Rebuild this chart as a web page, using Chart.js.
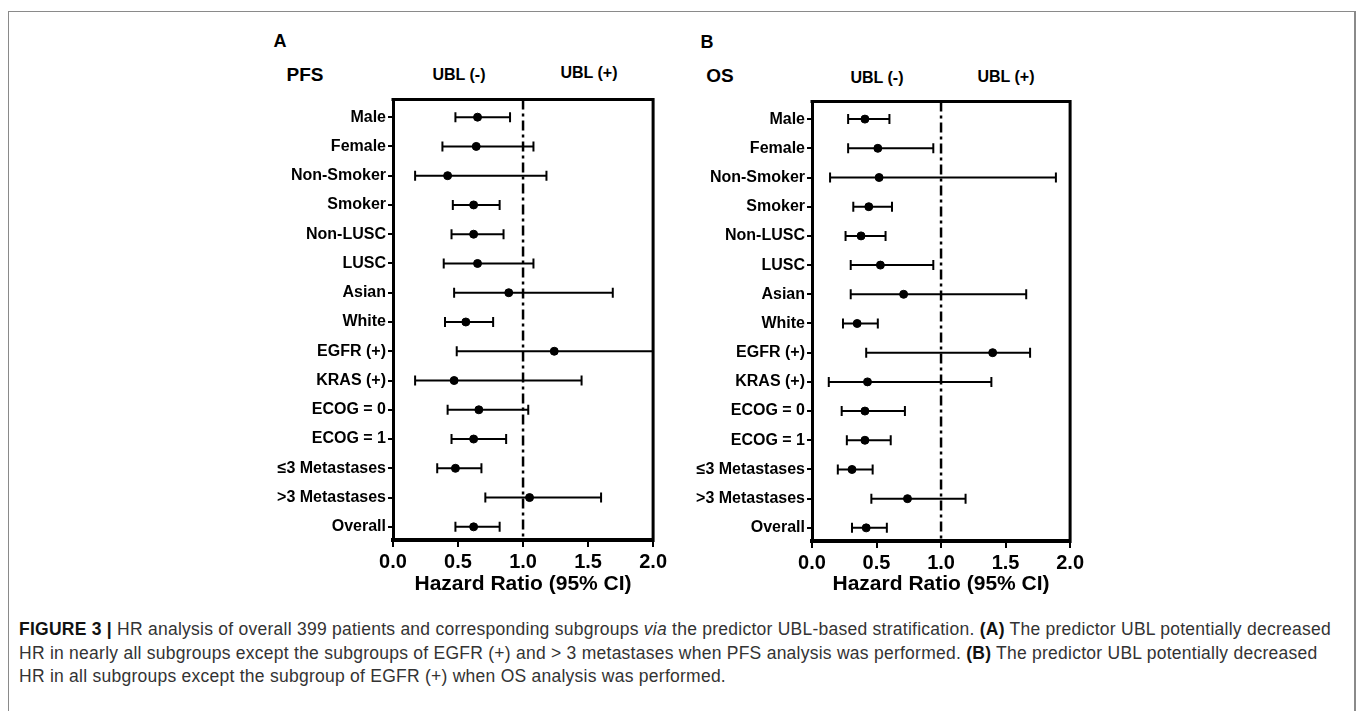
<!DOCTYPE html>
<html>
<head>
<meta charset="utf-8">
<script src="https://cdn.jsdelivr.net/npm/chart.js@4.4.0/dist/chart.umd.min.js"></script>
<style>
  body { margin:0; background:#fff; width:1357px; height:711px; overflow:hidden; position:relative; font-family:'Liberation Sans', Arial, sans-serif; }
  .frame { position:absolute; left:8px; top:11px; width:1345px; height:730px; border:1px solid #8a8a8a; border-right:2px solid #8a8a8a; }
  .lbl { position:absolute; font-weight:bold; color:#000; white-space:nowrap; transform:translate(-50%,-50%); }
  .cv { position:absolute; }
  .caption { position:absolute; left:19px; top:618px; font-size:17.5px; letter-spacing:0.25px; line-height:23.5px; color:#333; white-space:nowrap; }
  .caption b { color:#111; }
</style>
</head>
<body>
<div class="frame"></div>

<div class="lbl" style="left:280px;top:41px;font-size:18px">A</div>
<div class="lbl" style="left:305px;top:75px;font-size:19px">PFS</div>
<div class="lbl" style="left:459px;top:75px;font-size:16px">UBL (-)</div>
<div class="lbl" style="left:589px;top:73px;font-size:16px">UBL (+)</div>

<div class="lbl" style="left:707px;top:42px;font-size:18px">B</div>
<div class="lbl" style="left:720px;top:76px;font-size:19px">OS</div>
<div class="lbl" style="left:877px;top:78px;font-size:16px">UBL (-)</div>
<div class="lbl" style="left:1006px;top:77px;font-size:16px">UBL (+)</div>

<canvas id="chart-pfs" class="cv" width="420" height="520" style="left:250px;top:88px"></canvas>
<canvas id="chart-os" class="cv" width="415" height="518" style="left:672px;top:90px"></canvas>

<div class="caption">
  <b>FIGURE 3 |</b> HR analysis of overall 399 patients and corresponding subgroups <i>via</i> the predictor UBL-based stratification. <b>(A)</b> The predictor UBL potentially decreased<br>
  HR in nearly all subgroups except the subgroups of EGFR (+) and &gt; 3 metastases when PFS analysis was performed. <b>(B)</b> The predictor UBL potentially decreased<br>
  HR in all subgroups except the subgroup of EGFR (+) when OS analysis was performed.
</div>

<script>
// subgroups, top to bottom
const categories = ['Male', 'Female', 'Non-Smoker', 'Smoker', 'Non-LUSC', 'LUSC', 'Asian', 'White',
  'EGFR (+)', 'KRAS (+)', 'ECOG = 0', 'ECOG = 1', '\u22643 Metastases', '>3 Metastases', 'Overall'];

// PFS (panel A)
const pfsHR   = [0.65, 0.64, 0.42, 0.62, 0.62, 0.65, 0.89, 0.56, 1.24, 0.47, 0.66, 0.62, 0.48, 1.05, 0.62];
const pfsLow  = [0.48, 0.38, 0.17, 0.46, 0.45, 0.39, 0.47, 0.40, 0.49, 0.17, 0.42, 0.45, 0.34, 0.71, 0.48];
const pfsHigh = [0.90, 1.08, 1.18, 0.82, 0.85, 1.08, 1.69, 0.77, 2.40, 1.45, 1.04, 0.87, 0.68, 1.60, 0.82];

// OS (panel B)
const osHR   = [0.41, 0.51, 0.52, 0.44, 0.38, 0.53, 0.71, 0.35, 1.40, 0.43, 0.41, 0.41, 0.31, 0.74, 0.42];
const osLow  = [0.28, 0.28, 0.14, 0.32, 0.26, 0.30, 0.30, 0.24, 0.42, 0.13, 0.23, 0.27, 0.20, 0.46, 0.31];
const osHigh = [0.60, 0.94, 1.89, 0.62, 0.57, 0.94, 1.66, 0.51, 1.69, 1.39, 0.72, 0.61, 0.47, 1.19, 0.58];

const xTicks = [0, 0.5, 1.0, 1.5, 2.0];
const refLine = 1.0;

const FONT = "'Liberation Sans', Arial, sans-serif";

// whiskers with end caps, drawn under the points
const errorBars = {
  id: 'errorBars',
  beforeDatasetsDraw(chart, args, opts) {
    const { ctx, chartArea: a } = chart;
    const xs = chart.scales.x, ys = chart.scales.y;
    ctx.save();
    ctx.beginPath();
    ctx.rect(a.left, a.top, a.right - a.left, a.bottom - a.top);
    ctx.clip();
    ctx.strokeStyle = '#000';
    ctx.lineWidth = 2;
    opts.low.forEach((lo, i) => {
      const yp = ys.getPixelForValue(i);
      const x1 = xs.getPixelForValue(lo);
      const x2 = xs.getPixelForValue(opts.high[i]);
      ctx.beginPath();
      ctx.moveTo(x1, yp); ctx.lineTo(x2, yp);
      ctx.moveTo(x1, yp - 5); ctx.lineTo(x1, yp + 5);
      ctx.moveTo(x2, yp - 5); ctx.lineTo(x2, yp + 5);
      ctx.stroke();
    });
    ctx.restore();
  }
};

// top and right sides of the box
const boxFrame = {
  id: 'boxFrame',
  afterDraw(chart) {
    const { ctx, chartArea: a } = chart;
    ctx.save();
    ctx.strokeStyle = '#000';
    ctx.lineWidth = 3;
    ctx.beginPath();
    ctx.moveTo(a.left - 1.5, a.top);
    ctx.lineTo(a.right, a.top);
    ctx.lineTo(a.right, a.bottom + 2);
    ctx.stroke();
    ctx.restore();
  }
};

function makeForest(id, hr, low, high, yWidth, axisHeight) {
  const points = hr.map((v, i) => ({ x: v, y: i }));
  return new Chart(document.getElementById(id), {
    type: 'scatter',
    data: {
      datasets: [
        {
          data: [{ x: refLine, y: -0.6 }, { x: refLine, y: 14.45 }],
          showLine: true, pointRadius: 0, borderColor: '#000', borderWidth: 2.5,
          borderDash: [10, 4, 3, 4]
        },
        {
          data: points, pointRadius: 4, pointBackgroundColor: '#000', pointBorderColor: '#000', pointBorderWidth: 1
        }
      ]
    },
    options: {
      responsive: false,
      animation: false,
      layout: { padding: { top: 7, right: 11, left: 0, bottom: 0 } },
      plugins: { legend: { display: false }, tooltip: { enabled: false }, errorBars: { low, high } },
      scales: {
        x: {
          type: 'linear', min: 0, max: 2,
          afterBuildTicks: s => { s.ticks = xTicks.map(v => ({ value: v })); },
          afterFit: s => { s.height = axisHeight; },
          ticks: { color: '#000', font: { family: FONT, size: 20, weight: 'bold' }, padding: 3, maxRotation: 0, callback: v => Number(v).toFixed(1) },
          grid: { drawOnChartArea: false, drawTicks: true, tickLength: 7, color: '#000', lineWidth: 2 },
          border: { display: true, color: '#000', width: 4 },
          title: { display: true, text: 'Hazard Ratio (95% CI)', color: '#000', font: { family: FONT, size: 21, weight: 'bold' }, padding: { top: 0, bottom: 11 } }
        },
        y: {
          type: 'linear', reverse: true, min: -0.6, max: 14.45,
          afterBuildTicks: s => { s.ticks = categories.map((c, i) => ({ value: i })); },
          afterFit: s => { s.width = yWidth; },
          ticks: { autoSkip: false, color: '#000', font: { family: FONT, size: 16, weight: 'bold' }, padding: 2, callback: v => categories[v] },
          grid: { drawOnChartArea: false, drawTicks: true, tickLength: 5, color: '#000', lineWidth: 2 },
          border: { display: true, color: '#000', width: 3 }
        }
      }
    },
    plugins: [errorBars, boxFrame]
  });
}

makeForest('chart-pfs', pfsHR, pfsLow, pfsHigh, 143, 68);
makeForest('chart-os', osHR, osLow, osHigh, 140, 67);
</script>
</body>
</html>
